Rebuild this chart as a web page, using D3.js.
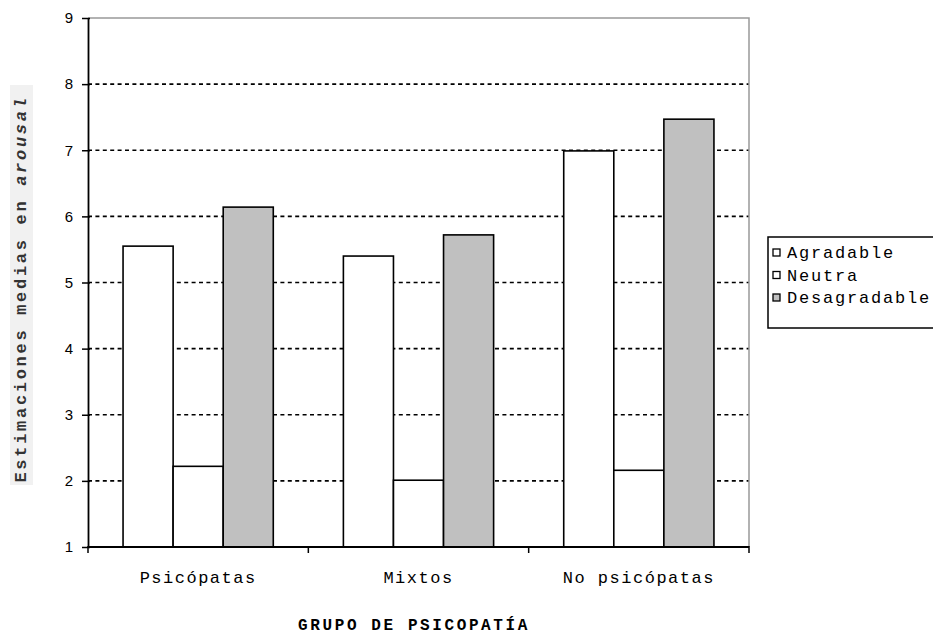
<!DOCTYPE html>
<html>
<head>
<meta charset="utf-8">
<script src="https://cdn.jsdelivr.net/npm/d3@7"></script>
<style>
  html, body { margin: 0; padding: 0; background: #fff; }
  svg { display: block; }
</style>
</head>
<body>
<svg id="chart" width="933" height="635"></svg>
<script>
// Mean arousal ratings by psychopathy group and picture valence
const groups = ["Psicópatas", "Mixtos", "No psicópatas"];
const seriesNames = ["Agradable", "Neutra", "Desagradable"];
const agradable = [5.55, 5.40, 6.99];
const neutra = [2.22, 2.01, 2.16];
const desagradable = [6.14, 5.72, 7.47];
const yTicks = [1, 2, 3, 4, 5, 6, 7, 8, 9];
const fills = ["#ffffff", "#ffffff", "#c0c0c0"];

const seriesValues = [agradable, neutra, desagradable];
const rows = groups.map((g, i) => ({
  group: g,
  values: seriesNames.map((s, k) => ({ key: s, value: seriesValues[k][i], fill: fills[k] }))
}));

const MONO = "'Liberation Mono', 'Courier New', monospace";

const svg = d3.select("#chart");
const margin = { left: 88, top: 18, right: 184, bottom: 88 };
const W = 933, H = 635;
const plotW = W - margin.left - margin.right;
const plotH = H - margin.top - margin.bottom;

const g = svg.append("g").attr("transform", `translate(${margin.left},${margin.top})`);

const x0 = d3.scaleBand().domain(groups).range([0, plotW]).paddingInner(0).paddingOuter(0);
const x1 = d3.scaleBand().domain(seriesNames).range([0, x0.bandwidth()]).paddingInner(0).paddingOuter(0.7);
const y = d3.scaleLinear().domain([1, 9]).range([plotH, 0]);

// dashed grid lines
g.append("g").selectAll("line")
  .data(yTicks.filter(t => t > 1 && t < 9))
  .join("line")
  .attr("x1", 0).attr("x2", plotW)
  .attr("y1", d => y(d)).attr("y2", d => y(d))
  .attr("stroke", "#000").attr("stroke-width", 1.6)
  .attr("stroke-dasharray", "4,3.4");

// plot frame (top and right)
g.append("path")
  .attr("d", `M0,${y(9)}H${plotW}V${plotH}`)
  .attr("fill", "none").attr("stroke", "#999").attr("stroke-width", 1.5);

// bars
const grp = g.append("g").selectAll("g").data(rows).join("g")
  .attr("transform", d => `translate(${x0(d.group)},0)`);
grp.selectAll("rect").data(d => d.values).join("rect")
  .attr("x", d => x1(d.key))
  .attr("width", x1.bandwidth())
  .attr("y", d => y(d.value))
  .attr("height", d => y(1) - y(d.value))
  .attr("fill", d => d.fill)
  .attr("stroke", "#000").attr("stroke-width", 1.6);

// y axis
const yAxis = g.append("g")
  .call(d3.axisLeft(y).tickValues(yTicks).tickSize(5).tickSizeOuter(0).tickFormat(d3.format("d")));
yAxis.select(".domain").attr("stroke-width", 1.8);
yAxis.selectAll(".tick line").attr("stroke-width", 1.5).attr("x2", 2).attr("x1", -6);
yAxis.selectAll(".tick text")
  .attr("x", -15)
  .style("font-family", "'Liberation Sans', Arial, sans-serif")
  .style("font-size", "15px").attr("fill", "#000");

// x axis with boundary ticks between groups
const xAxis = g.append("g").attr("transform", `translate(0,${plotH})`);
xAxis.append("line").attr("x1", 0).attr("x2", plotW)
  .attr("stroke", "#000").attr("stroke-width", 1.8);
const bounds = groups.map(gg => x0(gg)).concat([plotW]);
xAxis.selectAll("line.tk").data(bounds).join("line").attr("class", "tk")
  .attr("x1", d => d).attr("x2", d => d).attr("y1", -1).attr("y2", 6)
  .attr("stroke", "#000").attr("stroke-width", 1.5);
xAxis.selectAll("text").data(groups).join("text")
  .attr("x", d => x0(d) + x0.bandwidth() / 2)
  .attr("y", 36)
  .attr("text-anchor", "middle")
  .style("font-family", MONO)
  .style("font-size", "17px").style("letter-spacing", "1.5px")
  .text(d => d);

// x axis title
svg.append("text")
  .attr("x", 414).attr("y", 630)
  .attr("text-anchor", "middle")
  .style("font-family", MONO)
  .style("font-size", "16px").style("font-weight", "bold").style("letter-spacing", "2.6px")
  .text("GRUPO DE PSICOPATÍA");

// y axis title on a light panel
svg.append("rect").attr("x", 10).attr("y", 85).attr("width", 23).attr("height", 400)
  .attr("fill", "#f1f1f1");
const yt = svg.append("text")
  .attr("transform", "translate(26,289) rotate(-90)")
  .attr("text-anchor", "middle")
  .style("font-family", MONO)
  .style("font-size", "17px").style("font-weight", "bold").style("letter-spacing", "2.7px")
  .attr("fill", "#333");
yt.append("tspan").text("Estimaciones medias en ");
yt.append("tspan").style("font-style", "italic").text("arousal");

// legend
const lg = svg.append("g").attr("transform", "translate(768,237)");
lg.append("rect").attr("x", 0).attr("y", 0).attr("width", 170).attr("height", 91)
  .attr("fill", "#fff").attr("stroke", "#000").attr("stroke-width", 1.5);
const li = lg.selectAll("g.item").data(seriesNames).join("g").attr("class", "item")
  .attr("transform", (d, i) => `translate(5,${16 + i * 22.5})`);
li.append("rect").attr("x", 0).attr("y", -4).attr("width", 7).attr("height", 7)
  .attr("fill", (d, i) => fills[i]).attr("stroke", "#000").attr("stroke-width", 1.3);
li.append("text").attr("x", 14).attr("y", 5)
  .style("font-family", MONO)
  .style("font-size", "17px").style("letter-spacing", "1.8px")
  .text(d => d);
</script>
</body>
</html>
